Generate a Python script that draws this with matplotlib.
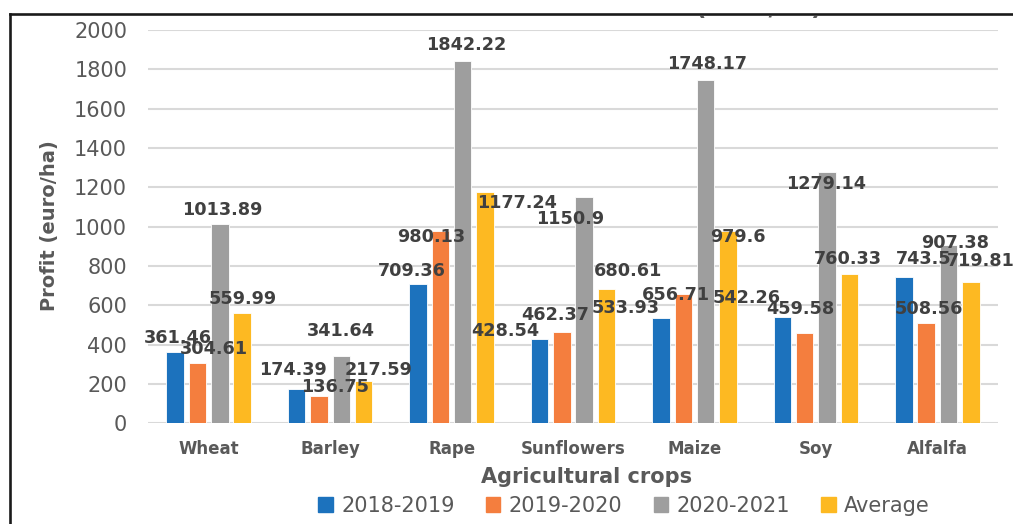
import numpy as np
import matplotlib
matplotlib.use('Agg')
import matplotlib.pyplot as plt
from matplotlib.patches import Rectangle
from matplotlib.lines import Line2D

# ---- data ----
crops = ['Wheat', 'Barley', 'Rape', 'Sunflowers', 'Maize', 'Soy', 'Alfalfa']
series = ['2018-2019', '2019-2020', '2020-2021', 'Average']
v_2018 = [361.46, 174.39, 709.36, 428.54, 533.93, 542.26, 743.5]
v_2019 = [304.61, 136.75, 980.13, 462.37, 656.71, 459.58, 508.56]
v_2020 = [1013.89, 341.64, 1842.22, 1150.9, 1748.17, 1279.14, 907.38]
v_avg = [559.99, 217.59, 1177.24, 680.61, 979.6, 760.33, 719.81]
values = [v_2018, v_2019, v_2020, v_avg]
yticks = [0, 200, 400, 600, 800, 1000, 1200, 1400, 1600, 1800, 2000]

# label placement (manual in the original): x offset from crop centre, y in data units
lab_dx = [
    [-0.25, -0.31, -0.33, -0.56, -0.57, -0.57, -0.11],
    [0.04, 0.04, -0.17, -0.15, -0.15, -0.13, -0.07],
    [0.11, 0.09, 0.12, -0.02, 0.10, 0.08, 0.15],
    [0.28, 0.40, 0.54, 0.45, 0.36, 0.26, 0.355],
]
lab_y = [
    [436, 271, 772, 469, 586, 637, 836],
    [378, 187, 947, 551, 652, 581, 581],
    [1085, 469, 1924, 1039, 1827, 1217, 917],
    [632, 273, 1120, 774, 947, 835, 825],
]

colors = ['#1C72BD', '#F47E3E', '#9E9E9E', '#FDB922']
TXT = '#595959'

W, H = 1013, 524
fig = plt.figure(figsize=(W / 100, H / 100), dpi=100)
ax = fig.add_axes([148 / W, 1 - 423.3 / H, 850 / W, (423.3 - 30) / H])

x = np.arange(len(crops))
step, bw = 0.184, 0.144
for k, (vals, col) in enumerate(zip(values, colors)):
    ax.bar(x + (k - 1.5) * step, vals, width=bw, color=col, edgecolor='white',
           linewidth=0.6, zorder=3, label=series[k])
    for i, v in enumerate(vals):
        ax.text(i + lab_dx[k][i], lab_y[k][i], f'{v:g}', ha='center', va='center',
                fontsize=12.7, fontweight='bold', color='#404040', zorder=5)

ax.set_xlim(-0.5, len(crops) - 0.5)
ax.set_ylim(0, 2000)
ax.set_yticks(yticks)
ax.yaxis.grid(True, color='#D9D9D9', linewidth=1.5, zorder=0)
ax.set_axisbelow(True)
for s in ax.spines.values():
    s.set_visible(False)
ax.tick_params(axis='y', length=0, pad=15, labelsize=15, labelcolor=TXT)
ax.set_xticks(x)
ax.set_xticklabels(crops, fontsize=12, fontweight='bold', color=TXT)
ax.tick_params(axis='x', length=0, pad=12)

fig.text(587 / W, 1 - 477 / H, 'Agricultural crops', ha='center', va='center',
         fontsize=15, fontweight='bold', color=TXT)
fig.text(49 / W, 1 - 226 / H, 'Profit (euro/ha)', ha='center', va='center',
         rotation=90, fontsize=14, fontweight='bold', color=TXT)

handles = [Rectangle((0, 0), 1, 1, color=c) for c in colors]
fig.legend(handles, series, loc='center', bbox_to_anchor=(624 / W, 1 - 506 / H),
           ncol=4, frameon=False, fontsize=15, labelcolor=TXT, handlelength=0.7,
           handleheight=0.7, handletextpad=0.4, columnspacing=1.5)

# title of the original is cropped away: only its lowest pixels show under the frame.
# a thin strip axes clips the text to that band.
strip = fig.add_axes([0, 1 - 22 / H, 1, 6.5 / H])
strip.axis('off')
strip.text(822 / W, 1 - 15 / H, 'Profit (euro/ha)', ha='right', va='baseline',
           fontsize=17.5, fontweight='bold', color=TXT, transform=fig.transFigure,
           clip_on=True)

fig.add_artist(Line2D([9.5 / W, 1], [1 - 14.2 / H, 1 - 14.2 / H],
                      color='#1a1a1a', linewidth=1.9, zorder=11))
fig.add_artist(Line2D([9.5 / W, 9.5 / W], [0, 1 - 14.2 / H],
                      color='#1a1a1a', linewidth=1.9, zorder=11))

fig.savefig('out.png', dpi=100)
